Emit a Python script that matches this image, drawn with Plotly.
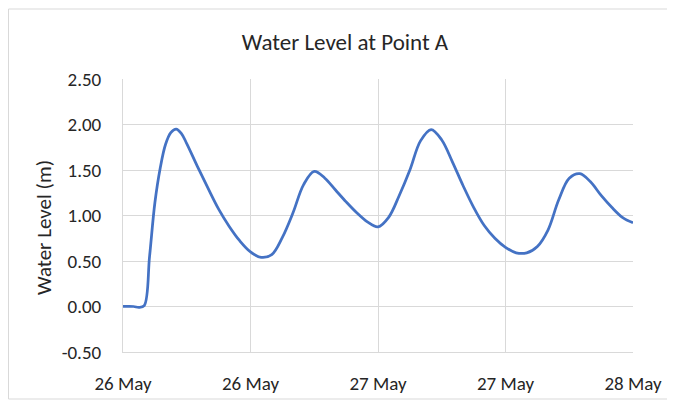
import plotly.graph_objects as go
import pandas as pd

# Hours after 26 May 00:00 and water level (m)
hours = [0, 1, 1.5, 2.0, 2.5, 3.0, 3.5, 4.0, 4.5, 5, 5.5, 6, 7, 8, 9, 10, 11, 12, 13,
         14, 15, 16, 17, 18, 19, 20, 21, 22, 23, 24, 25, 26, 27, 28, 29,
         30, 31, 32, 33, 34, 35, 36, 37, 38, 39, 40, 41, 42, 43, 44, 45, 46, 47, 48]
levels = [0.00, 0.00, -0.01, 0.01, 0.55, 1.14, 1.52, 1.78, 1.91, 1.95, 1.90, 1.79, 1.54, 1.30, 1.07, 0.88, 0.72, 0.60, 0.54,
          0.57, 0.76, 1.03, 1.34, 1.485, 1.41, 1.28, 1.15, 1.03, 0.93, 0.875, 0.98, 1.22, 1.50, 1.82, 1.945,
          1.83, 1.59, 1.33, 1.09, 0.89, 0.75, 0.65, 0.59, 0.59, 0.66, 0.84, 1.17, 1.41, 1.46, 1.37, 1.22, 1.09, 0.98, 0.92]

start = pd.Timestamp("2024-05-26 00:00")
times = [start + pd.Timedelta(hours=h) for h in hours]

tick_vals = [start + pd.Timedelta(hours=h) for h in [0, 12, 24, 36, 48]]
tick_text = ["26 May", "26 May", "27 May", "27 May", "28 May"]
y_ticks = [-0.5, 0, 0.5, 1.0, 1.5, 2.0, 2.5]
y_tick_text = ["-0.50", "0.00", "0.50", "1.00", "1.50", "2.00", "2.50"]

FONT = "Carlito, Lato, 'Open Sans', sans-serif"
TXT = "#262626"

fig = go.Figure()
fig.add_trace(go.Scatter(
    x=times, y=levels, mode="lines",
    line=dict(color="#4472C4", width=2.75, shape="spline", smoothing=1.0),
    showlegend=False,
))

# page is offset by the 8px body margin
W, H = 675, 403
L, T = 115, 71
R, B = W - 625, H - 344
pw, ph = W - L - R, H - T - B

fig.update_layout(
    width=W, height=H,
    margin=dict(l=L, r=R, t=T, b=B),
    paper_bgcolor="white", plot_bgcolor="white",
    font=dict(family=FONT, size=19, color=TXT),
    title=dict(text="Water Level at Point A", x=337 / W, xanchor="center",
               y=1 - 34 / H, yanchor="middle",
               font=dict(family=FONT, size=23, color=TXT)),
    xaxis=dict(
        range=[tick_vals[0], tick_vals[-1]],
        tickvals=tick_vals, ticktext=tick_text,
        showgrid=True, gridcolor="#d9d9d9", gridwidth=1,
        showline=True, linecolor="#d9d9d9", linewidth=1,
        ticks="", ticklabelstandoff=14,
        tickfont=dict(size=19, color=TXT),
        zeroline=False,
    ),
    yaxis=dict(
        range=[-0.5, 2.5], tickvals=y_ticks, ticktext=y_tick_text,
        showgrid=True, gridcolor="#d9d9d9", gridwidth=1,
        showline=True, linecolor="#d9d9d9", linewidth=1,
        zeroline=False, ticks="", ticklabelstandoff=17,
        tickfont=dict(size=19, color=TXT),
    ),
)

# y-axis title placed as in the reference
fig.add_annotation(text="Water Level (m)", textangle=-90,
                   xref="paper", yref="paper",
                   x=(36 - L) / pw, y=(H - B - 220) / ph,
                   xanchor="center", yanchor="middle", showarrow=False,
                   font=dict(family=FONT, size=21, color=TXT))

# outer chart border
fig.add_shape(type="rect", xref="paper", yref="paper",
              x0=(0.5 - L) / pw, x1=(662 - L) / pw,
              y0=(H - B - 391) / ph, y1=(H - B - 1) / ph,
              line=dict(color="#d9d9d9", width=1), fillcolor="rgba(0,0,0,0)", layer="below")

fig.write_html("out.html")
